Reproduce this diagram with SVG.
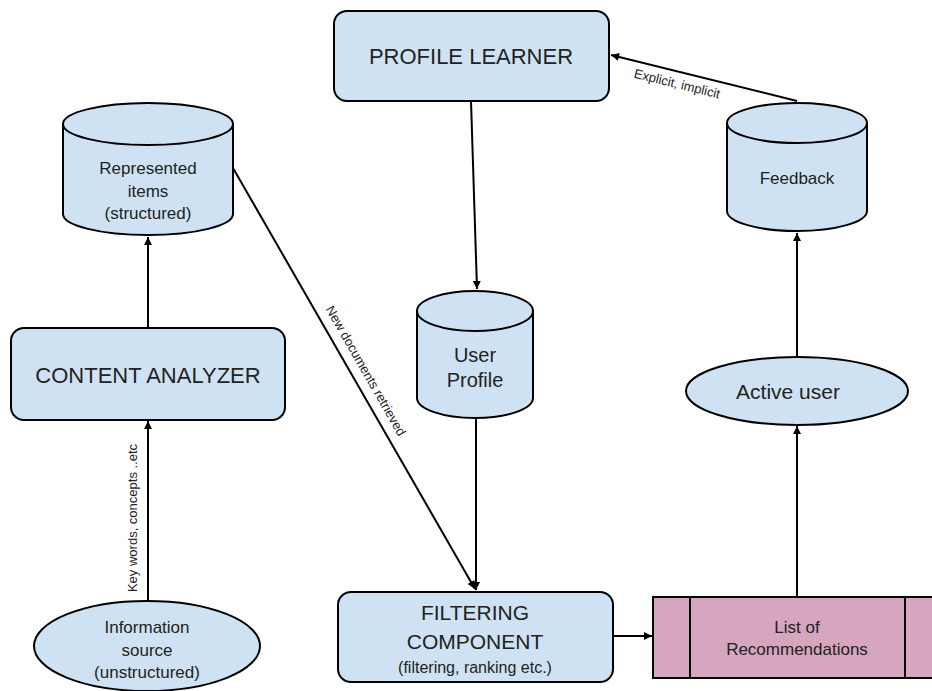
<svg xmlns="http://www.w3.org/2000/svg" width="932" height="691" viewBox="0 0 932 691">
<defs>
<marker id="arr" viewBox="0 0 10 10" refX="10" refY="5" markerWidth="9" markerHeight="8" markerUnits="userSpaceOnUse" orient="auto">
<path d="M0,0 L10,5 L0,10 Z" fill="#000"/>
</marker>
<style>
.n{fill:#cfe2f3;stroke:#000;stroke-width:2}
.p{fill:#d5a6bd;stroke:#000;stroke-width:2}
.t{font-family:"Liberation Sans",Arial,sans-serif;fill:#222;text-anchor:middle}
.c{stroke:#000;stroke-width:2;fill:none;marker-end:url(#arr)}
.l{font-family:"Liberation Sans",Arial,sans-serif;fill:#222;font-size:13px;text-anchor:middle}
</style>
</defs>
<rect width="932" height="691" fill="#fff"/>
<g id="connectors">
<line class="c" x1="471" y1="101" x2="477" y2="289"/>
<line class="c" x1="476" y1="419" x2="476" y2="590"/>
<line class="c" x1="233" y1="168" x2="475" y2="589"/>
<line class="c" x1="148" y1="328" x2="148" y2="237"/>
<line class="c" x1="148" y1="601" x2="148" y2="421"/>
<line class="c" x1="614" y1="636" x2="652" y2="636"/>
<line class="c" x1="797" y1="597" x2="797" y2="426"/>
<line class="c" x1="797" y1="357" x2="797" y2="233"/>
<line class="c" x1="797" y1="101" x2="611" y2="55"/>
<text class="l" transform="translate(676,88) rotate(13.8)">Explicit, implicit</text>
<text class="l" transform="translate(362,373) rotate(60.2)">New documents retrieved</text>
<text class="l" transform="translate(137,518) rotate(-90)">Key words, concepts ..etc</text>
</g>
<g id="profile-learner">
<rect class="n" x="334" y="11" width="275" height="90" rx="13"/>
<text class="t" x="471" y="64" font-size="22">PROFILE LEARNER</text>
</g>
<g id="represented-items">
<path class="n" d="M63,124 L63,214 A85,21 0 0 0 233,214 L233,124"/>
<ellipse class="n" cx="148" cy="124" rx="85" ry="21"/>
<text class="t" x="148" y="174" font-size="17">Represented</text>
<text class="t" x="148" y="197" font-size="17">items</text>
<text class="t" x="148" y="219" font-size="17">(structured)</text>
</g>
<g id="feedback">
<path class="n" d="M727,123 L727,211 A70,20 0 0 0 867,211 L867,123"/>
<ellipse class="n" cx="797" cy="123" rx="70" ry="20"/>
<text class="t" x="797" y="184" font-size="17">Feedback</text>
</g>
<g id="user-profile">
<path class="n" d="M417,311 L417,398 A58,20 0 0 0 533,398 L533,311"/>
<ellipse class="n" cx="475" cy="311" rx="58" ry="20"/>
<text class="t" x="475" y="362" font-size="20">User</text>
<text class="t" x="475" y="387" font-size="20">Profile</text>
</g>
<g id="content-analyzer">
<rect class="n" x="11" y="328" width="274" height="92" rx="13"/>
<text class="t" x="148" y="383" font-size="22">CONTENT ANALYZER</text>
</g>
<g id="active-user">
<ellipse class="n" cx="797" cy="391" rx="111" ry="34"/>
<text class="t" x="788" y="399" font-size="21">Active user</text>
</g>
<g id="information-source">
<ellipse class="n" cx="147" cy="646" rx="113" ry="45"/>
<text class="t" x="147" y="633" font-size="17">Information</text>
<text class="t" x="147" y="656" font-size="17">source</text>
<text class="t" x="147" y="678" font-size="17">(unstructured)</text>
</g>
<g id="filtering-component">
<rect class="n" x="338" y="592" width="275" height="90" rx="13"/>
<text class="t" x="475" y="620" font-size="21">FILTERING</text>
<text class="t" x="475" y="649" font-size="21">COMPONENT</text>
<text class="t" x="475" y="673" font-size="16">(filtering, ranking etc.)</text>
</g>
<g id="list-of-recommendations">
<rect class="p" x="653" y="597" width="290" height="81"/>
<line x1="690" y1="597" x2="690" y2="678" stroke="#000" stroke-width="2"/>
<line x1="905" y1="597" x2="905" y2="678" stroke="#000" stroke-width="2"/>
<text class="t" x="797" y="633" font-size="17">List of</text>
<text class="t" x="797" y="655" font-size="17">Recommendations</text>
</g>
</svg>
